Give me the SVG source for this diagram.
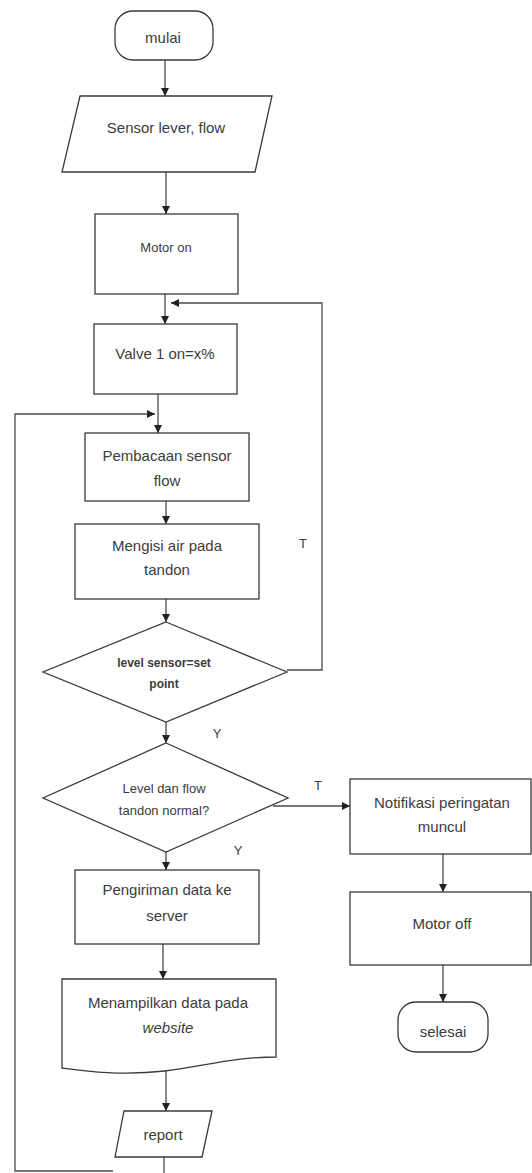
<svg xmlns="http://www.w3.org/2000/svg" width="532" height="1173" viewBox="0 0 532 1173">
<style>
.shape{fill:#fff;stroke:#3a3a3a;stroke-width:1.3}
.conn{fill:none;stroke:#4a4a4a;stroke-width:1.3}
text{font-family:"Liberation Sans",Arial,sans-serif;fill:#3c3c3c;text-anchor:middle;dominant-baseline:central}
.t15{font-size:15px}
.t13{font-size:13px}
.lbl{font-size:13px}
</style>
<defs>
<marker id="arr" markerUnits="userSpaceOnUse" markerWidth="8" markerHeight="8" refX="8" refY="4" orient="auto">
<path d="M0,0 L8,4 L0,8 z" fill="#222"/>
</marker>
</defs>
<rect width="532" height="1173" fill="#fff"/>
<g id="connectors">
<path class="conn" d="M165,60 V96" marker-end="url(#arr)"/>
<path class="conn" d="M166,172 V214" marker-end="url(#arr)"/>
<path class="conn" d="M165,294 V324" marker-end="url(#arr)"/>
<path class="conn" d="M158,394 V433" marker-end="url(#arr)"/>
<path class="conn" d="M113,1171 H15 V414 H155" marker-end="url(#arr)"/>
<path class="conn" d="M166,501 V524" marker-end="url(#arr)"/>
<path class="conn" d="M166,599 V622" marker-end="url(#arr)"/>
<path class="conn" d="M287,670 H322 V303 H171" marker-end="url(#arr)"/>
<path class="conn" d="M166,722 V743" marker-end="url(#arr)"/>
<path class="conn" d="M273,806 H350" marker-end="url(#arr)"/>
<path class="conn" d="M443,854 V892" marker-end="url(#arr)"/>
<path class="conn" d="M443,965 V1002" marker-end="url(#arr)"/>
<path class="conn" d="M166,852 V870" marker-end="url(#arr)"/>
<path class="conn" d="M163,944 V979" marker-end="url(#arr)"/>
<path class="conn" d="M166,1070 V1111" marker-end="url(#arr)"/>
<path class="conn" d="M164,1157 V1173"/>
<text class="lbl" x="303" y="543">T</text>
<text class="lbl" x="217" y="733">Y</text>
<text class="lbl" x="318" y="785">T</text>
<text class="lbl" x="238" y="850">Y</text>
</g>
<g id="mulai">
<rect class="shape" x="115" y="11" width="98" height="49" rx="18"/>
<text class="t15" x="163" y="37">mulai</text>
</g>
<g id="sensor">
<polygon class="shape" points="80,96 272,96 255,172 62,172"/>
<text class="t15" x="166" y="127" font-size="14">Sensor lever, flow</text>
</g>
<g id="motor-on">
<rect class="shape" x="95" y="214" width="143" height="80"/>
<text class="t13" x="166" y="247">Motor on</text>
</g>
<g id="valve">
<rect class="shape" x="94" y="324" width="143" height="70"/>
<text class="t15" x="165" y="353">Valve 1 on=x%</text>
</g>
<g id="pembacaan">
<rect class="shape" x="85" y="433" width="164" height="68"/>
<text class="t15" x="167" y="455">Pembacaan sensor</text>
<text class="t15" x="167" y="480">flow</text>
</g>
<g id="mengisi">
<rect class="shape" x="75" y="524" width="184" height="75"/>
<text class="t15" x="167" y="545">Mengisi air pada</text>
<text class="t15" x="167" y="569">tandon</text>
</g>
<g id="decision-level">
<polygon class="shape" points="166,622 287,672 166,722 43,672"/>
<text x="164" y="663" font-size="12" font-weight="bold">level sensor=set</text>
<text x="164" y="684" font-size="12" font-weight="bold">point</text>
</g>
<g id="decision-normal">
<polygon class="shape" points="166,743 288,798 166,852 43,798"/>
<text class="t13" x="164" y="788">Level dan flow</text>
<text class="t13" x="164" y="810">tandon normal?</text>
</g>
<g id="notifikasi">
<rect class="shape" x="350" y="779" width="181" height="75"/>
<text class="t15" x="442" y="802">Notifikasi peringatan</text>
<text class="t15" x="442" y="826">muncul</text>
</g>
<g id="motor-off">
<rect class="shape" x="350" y="892" width="181" height="73"/>
<text class="t15" x="442" y="923" font-size="16">Motor off</text>
</g>
<g id="selesai">
<rect class="shape" x="398" y="1002" width="90" height="50" rx="18"/>
<text class="t15" x="443" y="1031">selesai</text>
</g>
<g id="pengiriman">
<rect class="shape" x="75" y="870" width="184" height="74"/>
<text class="t15" x="167" y="889">Pengiriman data ke</text>
<text class="t15" x="167" y="915">server</text>
</g>
<g id="menampilkan">
<path class="shape" d="M62,979 H276 V1057 C235,1057 205,1066 165,1071 C120,1076 85,1071 62,1068 Z"/>
<text class="t15" x="168" y="1002">Menampilkan data pada</text>
<text class="t15" x="168" y="1027" font-style="italic">website</text>
</g>
<g id="report">
<polygon class="shape" points="124,1111 212,1111 202,1157 115,1157"/>
<text class="t15" x="163" y="1134">report</text>
</g>
</svg>
